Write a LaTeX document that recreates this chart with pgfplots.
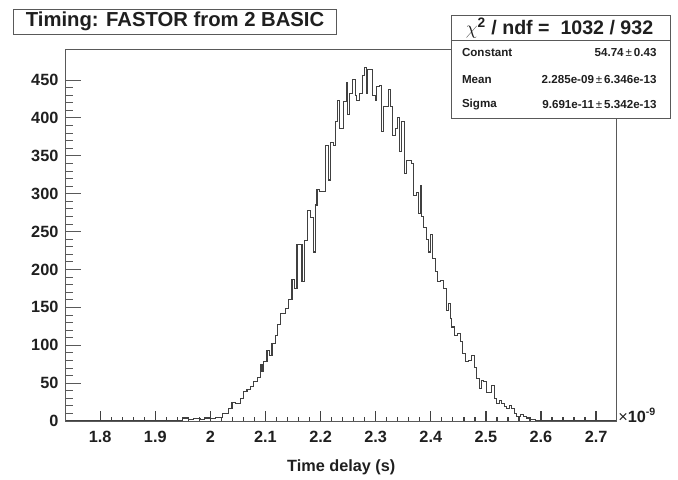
\documentclass[border=0pt]{standalone}
\usepackage{fontspec}
\setmainfont{Liberation Sans}
\usepackage{pgfplots}
\pgfplotsset{compat=1.18}
\definecolor{framec}{gray}{0.35}
\definecolor{histc}{gray}{0.25}
\definecolor{txt}{gray}{0.12}
\begin{document}
\begin{tikzpicture}
\begin{axis}[
  at={(0pt,0pt)}, anchor=south west,
  scale only axis, width=413.25pt, height=278.8pt,
  xmin=1.7375, xmax=2.7375, ymin=0, ymax=490.5,
  axis on top,
  axis line style={framec, line width=0.7pt},
  xtick={1.8,1.9,2,2.1,2.2,2.3,2.4,2.5,2.6,2.7},
  ytick={0,50,100,150,200,250,300,350,400,450},
  minor x tick num=4, minor y tick num=4,
  tick align=inside, tick pos=left,
  major tick length=7.7pt, minor tick length=3.3pt,
  xtick style={black!75, line width=1pt},
  ytick style={framec, line width=0.6pt, /pgfplots/major tick length=11.5pt, /pgfplots/minor tick length=5.5pt},
  /pgf/number format/assume math mode=true,
  ticklabel style={font=\bfseries\fontsize{12.2}{12.2}\selectfont, text=txt},
  xticklabel style={yshift=-4pt},
  yticklabel style={xshift=-2pt},
  xlabel={Time delay (s)},
  every axis x label/.style={at={(axis description cs:0.5,0)}, anchor=center, yshift=-34.5pt, font=\bfseries\fontsize{12.2}{12.2}\selectfont, text=txt},
  clip=false,
]
\addplot[const plot, color=histc, line width=0.8pt] coordinates {
(1.7375,0) (1.9184,1) (1.9275,0) (1.9380,1) (1.9492,4) (1.9601,2) (1.9700,3) (1.9819,2)
(1.9900,4) (2.0000,3) (2.0100,5) (2.0218,10) (2.0332,17) (2.0393,25) (2.0453,23) (2.0544,30)
(2.0604,39) (2.0665,41) (2.0725,45) (2.0785,52) (2.0847,58) (2.0907,74) (2.0937,66) (2.0966,78)
(2.1028,93) (2.1075,86) (2.1119,102) (2.1179,113) (2.1220,127) (2.1269,142) (2.1360,149) (2.1420,160)
(2.1481,187) (2.1523,175) (2.1572,233) (2.1663,184) (2.1704,238) (2.1764,278) (2.1813,268) (2.1873,223)
(2.1904,285) (2.1935,305) (2.1982,303) (2.2085,363) (2.2145,318) (2.2176,367) (2.2236,363) (2.2279,395)
(2.2308,423) (2.2345,386) (2.2417,421) (2.2466,446) (2.2497,404) (2.2526,432) (2.2587,450) (2.2629,430)
(2.2660,423) (2.2707,432) (2.2762,456) (2.2798,467) (2.2829,432) (2.2859,464) (2.2950,430) (2.2992,423)
(2.3023,441) (2.3070,443) (2.3113,382) (2.3142,415) (2.3233,437) (2.3264,415) (2.3313,377) (2.3354,386)
(2.3396,401) (2.3432,355) (2.3476,395) (2.3518,327) (2.3554,344) (2.3657,340) (2.3686,298) (2.3735,302)
(2.3777,274) (2.3808,311) (2.3826,270) (2.3868,255) (2.3917,240) (2.3958,223) (2.3989,246) (2.4038,215)
(2.4080,197) (2.4121,184) (2.4170,186) (2.4230,175) (2.4279,146) (2.4321,155) (2.4352,135) (2.4383,124)
(2.4424,113) (2.4484,116) (2.4533,105) (2.4575,89) (2.4624,78) (2.4684,80) (2.4745,87) (2.4787,70)
(2.4836,56) (2.4883,43) (2.4914,54) (2.4956,52) (2.5017,37) (2.5064,38) (2.5108,47) (2.5150,30)
(2.5199,23) (2.5246,27) (2.5289,23) (2.5331,19) (2.5380,17) (2.5427,20) (2.5470,17) (2.5512,10)
(2.5561,6) (2.5621,8) (2.5681,6) (2.5742,4) (2.5802,2) (2.5893,1) (2.6165,0) (2.6256,1)
(2.6346,0) (2.6500,1) (2.6550,0) (2.7375,0)
};
\node[anchor=west, inner sep=1pt, text=txt, font=\fontsize{12.2}{12.2}\selectfont] at (rel axis cs:1,0.015) {×\textbf{10}\raisebox{0.9ex}{\fontsize{8}{8}\selectfont\bfseries -9}};
\end{axis}
% title box
\draw[framec, line width=0.7pt, fill=white] (-39.5pt,290.25pt) rectangle (202.7pt,309pt);
\node[text=txt, font=\bfseries\fontsize{15.2}{15.2}\selectfont, inner sep=0pt] at (82pt,299.6pt) {Timing: FASTOR from 2 BASIC};
% stat box
\draw[framec, line width=0.7pt, fill=white] (289pt,227.25pt) rectangle (453.2pt,304.5pt);
\draw[framec, line width=0.7pt] (289pt,285.75pt) -- (453.2pt,285.75pt);
\node[text=txt, font=\bfseries\fontsize{14.7}{14.7}\selectfont, inner sep=0pt] at (370.35pt,295pt) {$\chi^{\mathbf{2}}$ / ndf =\ \ 1032 / 932};
\begin{scope}[every node/.style={text=txt, font=\bfseries\fontsize{8.7}{8.7}\selectfont, inner sep=0pt}]
\node[anchor=west] at (297pt,276pt) {Constant};
\node[anchor=east] at (443.25pt,276pt) {54.74\,{\mdseries±}\,0.43};
\node[anchor=west] at (297pt,255.75pt) {Mean};
\node[anchor=east] at (443.25pt,255.75pt) {2.285e-09\,{\mdseries±}\,6.346e-13};
\node[anchor=west] at (297pt,237pt) {Sigma};
\node[anchor=east] at (443.25pt,237pt) {9.691e-11\,{\mdseries±}\,5.342e-13};
\end{scope}
\pgfresetboundingbox
\path[use as bounding box] (-49.3pt,-43.5pt) rectangle (459.2pt,315.75pt);
\end{tikzpicture}
\end{document}
